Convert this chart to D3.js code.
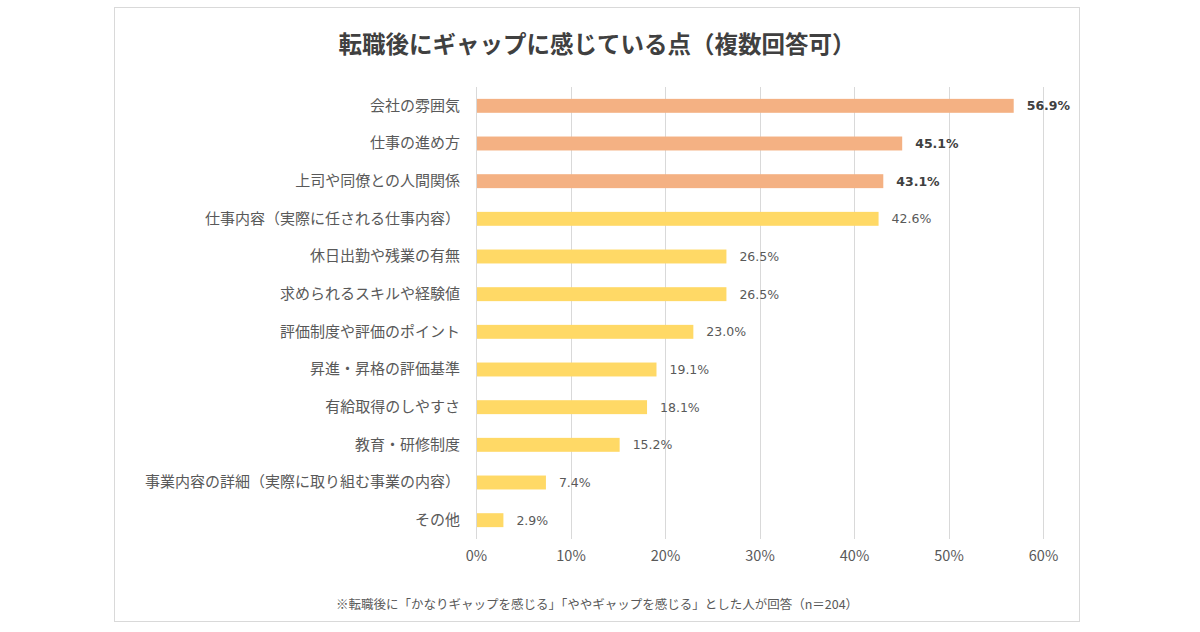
<!DOCTYPE html>
<html><head><meta charset="utf-8">
<script src="https://cdn.jsdelivr.net/npm/d3@7"></script>
<style>
html,body{margin:0;padding:0;background:#fff;}
svg{display:block;}
</style></head>
<body><svg id="c" width="1200" height="632"></svg>
<script>
const title = "転職後にギャップに感じている点（複数回答可）";
const footnote = "※転職後に「かなりギャップを感じる」「ややギャップを感じる」とした人が回答（n＝204）";
const categories = ["会社の雰囲気","仕事の進め方","上司や同僚との人間関係","仕事内容（実際に任される仕事内容）","休日出勤や残業の有無","求められるスキルや経験値","評価制度や評価のポイント","昇進・昇格の評価基準","有給取得のしやすさ","教育・研修制度","事業内容の詳細（実際に取り組む事業の内容）","その他"];
const values = [56.9,45.1,43.1,42.6,26.5,26.5,23.0,19.1,18.1,15.2,7.4,2.9];
const highlighted = [true,true,true,false,false,false,false,false,false,false,false,false];
const ticks = [0,10,20,30,40,50,60];

const svg = d3.select("#c");
const jp = "'Noto Sans CJK JP','Noto Sans',sans-serif";

svg.append("rect").attr("x",114.5).attr("y",7.5).attr("width",965).attr("height",614)
  .attr("fill","#fff").attr("stroke","#d9d9d9").attr("stroke-width",1);

svg.append("text").attr("x",597).attr("y",53).attr("text-anchor","middle")
  .attr("font-family",jp).attr("font-size",23.5).attr("font-weight","bold").attr("fill","#404040")
  .text(title);

const x = d3.scaleLinear().domain([0,60]).range([476,1043]);
const y = d3.scaleBand().domain(categories).range([87,539]).paddingInner(0.63).paddingOuter(0.315);

const g = svg.append("g");
g.selectAll("line.grid").data(ticks).join("line")
  .attr("x1",d=>Math.round(x(d))+0.5).attr("x2",d=>Math.round(x(d))+0.5)
  .attr("y1",87).attr("y2",539).attr("stroke","#d9d9d9").attr("stroke-width",1);

const xAxis = d3.axisBottom(x).tickValues(ticks).tickFormat(d=>d+"%").tickSize(0).tickPadding(0);
const ax = svg.append("g").attr("transform","translate(0,551)").call(xAxis);
ax.select(".domain").remove();
ax.selectAll("text").attr("font-family",jp).attr("font-size",14.5).attr("fill","#595959").attr("dy","0.71em");

g.selectAll("rect.bar").data(values).join("rect")
  .attr("x",x(0)+1).attr("y",(d,i)=>y(categories[i]))
  .attr("width",d=>x(d)-x(0)-1).attr("height",y.bandwidth())
  .attr("fill",(d,i)=>highlighted[i]?"#F4B183":"#FFD966");

const yAxis = d3.axisLeft(y).tickSize(0).tickPadding(16);
const ay = svg.append("g").attr("transform",`translate(${x(0)},0)`).call(yAxis);
ay.select(".domain").remove();
ay.selectAll("text").attr("font-family",jp).attr("font-size",15).attr("fill","#595959");

g.selectAll("text.val").data(values).join("text")
  .attr("x",d=>x(d)+13).attr("y",(d,i)=>y(categories[i])+y.bandwidth()/2)
  .attr("dy","0.36em")
  .attr("font-family","'DejaVu Sans',Verdana,sans-serif").attr("font-size",12.5)
  .attr("font-weight",(d,i)=>highlighted[i]?"bold":"normal")
  .attr("fill",(d,i)=>highlighted[i]?"#404040":"#595959")
  .text(d=>d.toFixed(1)+"%");

svg.append("text").attr("x",597).attr("y",609).attr("text-anchor","middle")
  .attr("font-family",jp).attr("font-size",12.5).attr("fill","#595959")
  .text(footnote);
</script></body></html>
